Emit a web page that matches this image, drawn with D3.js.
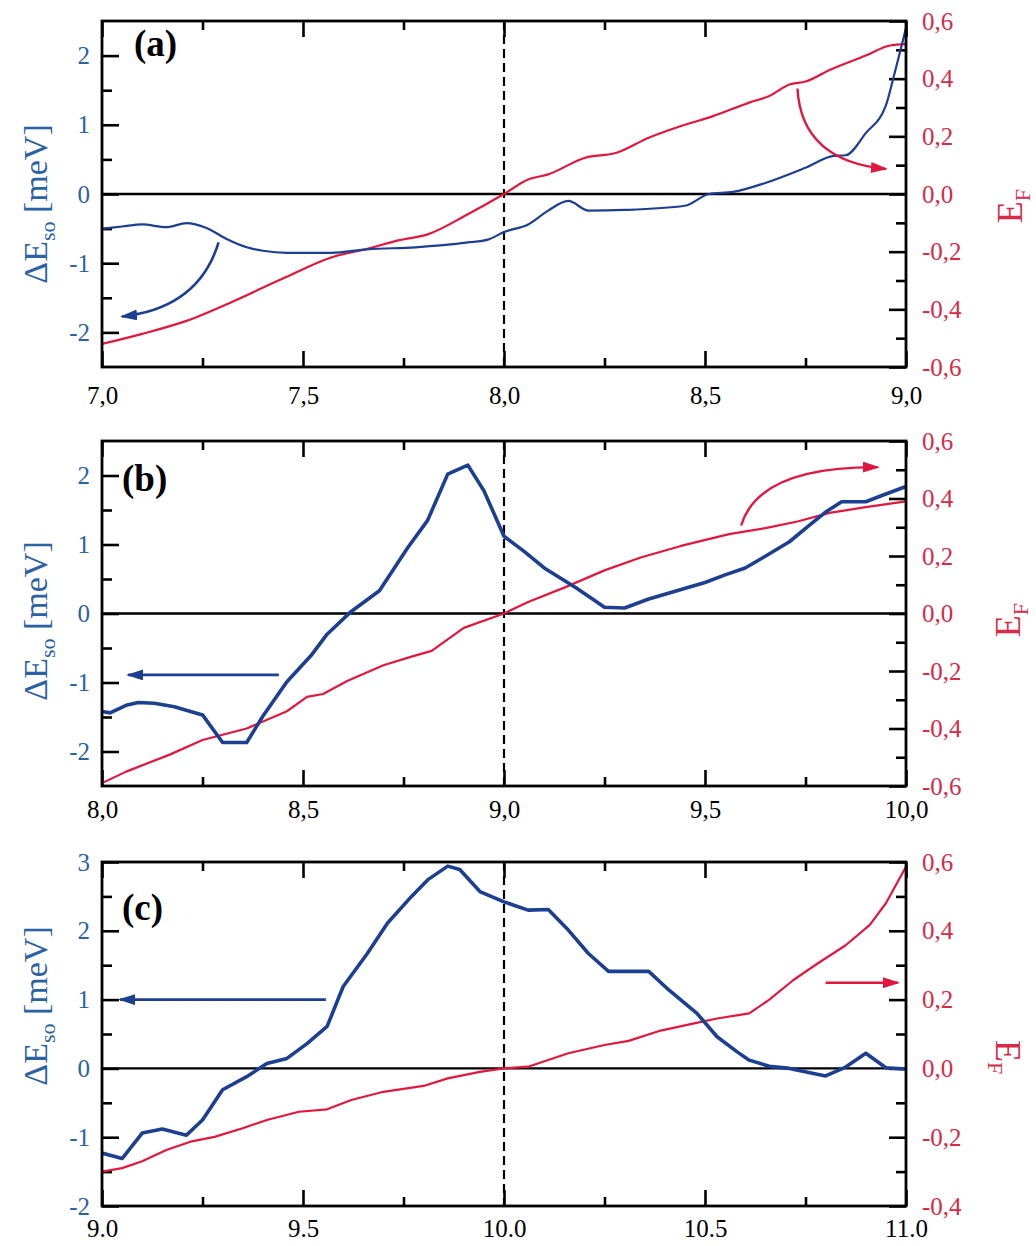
<!DOCTYPE html>
<html>
<head>
<meta charset="utf-8">
<script src="https://cdn.jsdelivr.net/npm/d3@7"></script>
<style>
  html, body { margin: 0; padding: 0; background: #fff; }
  svg { display: block; }
</style>
</head>
<body>
<svg id="fig" width="1036" height="1246"></svg>
<script>
// ---------- data: [x, value] pairs ----------
// panel (a): spin-orbit splitting (meV) and Fermi energy
const aSplit = [[7.00,-0.50],[7.05,-0.47],[7.10,-0.44],[7.16,-0.48],[7.21,-0.42],[7.26,-0.49],[7.31,-0.65],[7.36,-0.77],[7.40,-0.82],[7.46,-0.85],[7.57,-0.85],[7.66,-0.80],[7.78,-0.77],[7.91,-0.70],[7.96,-0.66],[8.00,-0.55],[8.06,-0.44],[8.11,-0.24],[8.16,-0.10],[8.21,-0.24],[8.30,-0.23],[8.45,-0.17],[8.51,0.00],[8.57,0.03],[8.65,0.16],[8.75,0.38],[8.82,0.55],[8.85,0.56],[8.90,0.88],[8.95,1.28],[8.97,1.71],[9.00,2.40]];
const aFermi = [[7.00,-0.52],[7.10,-0.485],[7.21,-0.44],[7.33,-0.37],[7.455,-0.29],[7.57,-0.22],[7.66,-0.19],[7.74,-0.16],[7.81,-0.14],[7.91,-0.07],[8.00,0.00],[8.06,0.05],[8.11,0.068],[8.20,0.125],[8.28,0.143],[8.36,0.195],[8.45,0.24],[8.52,0.27],[8.61,0.317],[8.66,0.34],[8.71,0.38],[8.75,0.39],[8.81,0.43],[8.90,0.48],[8.96,0.515],[9.00,0.52]];

// panel (b)
const bSplit = [[8.00,-1.42],[8.02,-1.44],[8.06,-1.33],[8.09,-1.29],[8.13,-1.30],[8.18,-1.35],[8.25,-1.47],[8.30,-1.87],[8.36,-1.87],[8.40,-1.49],[8.46,-0.99],[8.52,-0.61],[8.56,-0.30],[8.62,0.03],[8.69,0.33],[8.76,0.95],[8.81,1.35],[8.86,2.02],[8.91,2.15],[8.95,1.78],[9.00,1.12],[9.05,0.90],[9.10,0.66],[9.18,0.37],[9.25,0.09],[9.30,0.08],[9.36,0.21],[9.43,0.33],[9.50,0.45],[9.55,0.56],[9.60,0.66],[9.65,0.83],[9.71,1.04],[9.76,1.28],[9.80,1.47],[9.84,1.62],[9.90,1.62],[9.94,1.71],[10.00,1.84]];
const bFermi = [[8.00,-0.59],[8.06,-0.55],[8.17,-0.49],[8.25,-0.44],[8.36,-0.40],[8.46,-0.34],[8.51,-0.29],[8.55,-0.28],[8.61,-0.235],[8.70,-0.18],[8.77,-0.15],[8.82,-0.13],[8.90,-0.05],[9.00,0.00],[9.06,0.04],[9.15,0.09],[9.25,0.15],[9.34,0.195],[9.44,0.235],[9.56,0.276],[9.65,0.297],[9.73,0.32],[9.81,0.35],[9.90,0.37],[10.00,0.39]];

// panel (c)
const cSplit = [[9.00,-1.23],[9.05,-1.31],[9.10,-0.94],[9.15,-0.88],[9.21,-0.97],[9.25,-0.75],[9.30,-0.31],[9.36,-0.12],[9.41,0.07],[9.46,0.145],[9.51,0.36],[9.56,0.61],[9.60,1.19],[9.66,1.67],[9.71,2.11],[9.77,2.50],[9.81,2.74],[9.86,2.94],[9.89,2.89],[9.94,2.57],[10.00,2.42],[10.06,2.30],[10.11,2.31],[10.16,2.01],[10.21,1.67],[10.26,1.41],[10.36,1.41],[10.41,1.14],[10.48,0.80],[10.53,0.46],[10.58,0.24],[10.61,0.12],[10.66,0.03],[10.71,0.00],[10.80,-0.11],[10.85,0.02],[10.90,0.22],[10.95,0.01],[11.00,-0.01]];
const cFermi = [[9.00,-0.30],[9.05,-0.29],[9.10,-0.27],[9.16,-0.237],[9.22,-0.213],[9.28,-0.199],[9.35,-0.174],[9.41,-0.15],[9.49,-0.126],[9.56,-0.119],[9.62,-0.092],[9.70,-0.068],[9.80,-0.051],[9.86,-0.029],[9.94,-0.01],[10.00,0.00],[10.06,0.005],[10.16,0.044],[10.25,0.068],[10.31,0.08],[10.39,0.11],[10.47,0.13],[10.53,0.145],[10.61,0.16],[10.66,0.20],[10.72,0.257],[10.78,0.305],[10.85,0.358],[10.91,0.417],[10.95,0.48],[11.00,0.586]];

// ---------- ticks ----------
const aXTicks = [7.0, 7.5, 8.0, 8.5, 9.0];
const bXTicks = [8.0, 8.5, 9.0, 9.5, 10.0];
const cXTicks = [9.0, 9.5, 10.0, 10.5, 11.0];
const abLeftTicks = [-2, -1, 0, 1, 2];
const cLeftTicks = [-2, -1, 0, 1, 2, 3];
const abRightTicks = [-0.6, -0.4, -0.2, 0.0, 0.2, 0.4, 0.6];
const cRightTicks = [-0.4, -0.2, 0.0, 0.2, 0.4, 0.6];

// direction arrows: blue ones refer to the left axis, red ones to the right axis
const aArrows = [
  { side: 'left', pts: [[7.29,-0.70],[7.24,-1.65],[7.05,-1.77]] },
  { side: 'right', pts: [[8.73,0.366],[8.74,0.115],[8.95,0.087]] }
];
const bArrows = [
  { side: 'left', pts: [[8.44,-0.89],[8.065,-0.89]] },
  { side: 'right', pts: [[9.59,0.306],[9.633,0.511],[9.93,0.509]] }
];
const cArrows = [
  { side: 'left', pts: [[9.557,1.0],[9.045,1.0]] },
  { side: 'right', pts: [[10.80,0.249],[10.98,0.249]] }
];

// ---------- styling ----------
const BLUE_LINE = '#1d3f92';
const BLUE_TEXT = '#2c62a4';
const RED_LINE = '#e2173f';
const RED_TEXT = '#d62a48';
const FONT = '"Liberation Serif", "Times New Roman", serif';
const X0 = 102, X1 = 906;

const commaFmt = d => (+d).toFixed(1).replace('.', ',');
const dotFmt = d => (+d).toFixed(1);
const intFmt = d => String(d);

const panels = [
  { tag: '(a)', top: 21, bottom: 367, xDomain: [7, 9], xTicks: aXTicks, xFmt: commaFmt, xPad: 19,
    leftDomain: [-2.5, 2.5], leftTicks: abLeftTicks, rightDomain: [-0.6, 0.6], rightTicks: abRightTicks,
    split: aSplit, fermi: aFermi, splitWidth: 2.2, smooth: true, mark: 8.0, arrows: aArrows,
    tagPos: [134, 56], leftTitle: [47, 204], rightTitle: [1022, 206, -90] },
  { tag: '(b)', top: 441, bottom: 786, xDomain: [8, 10], xTicks: bXTicks, xFmt: commaFmt, xPad: 14,
    leftDomain: [-2.5, 2.5], leftTicks: abLeftTicks, rightDomain: [-0.6, 0.6], rightTicks: abRightTicks,
    split: bSplit, fermi: bFermi, splitWidth: 3.6, smooth: false, mark: 9.0, arrows: bArrows,
    tagPos: [122, 491], leftTitle: [47, 621], rightTitle: [1020, 620, -90] },
  { tag: '(c)', top: 862, bottom: 1206, xDomain: [9, 11], xTicks: cXTicks, xFmt: dotFmt, xPad: 13,
    leftDomain: [-2, 3], leftTicks: cLeftTicks, rightDomain: [-0.4, 0.6], rightTicks: cRightTicks,
    split: cSplit, fermi: cFermi, splitWidth: 3.6, smooth: false, mark: 10.0, arrows: cArrows,
    tagPos: [122, 920], leftTitle: [47, 1006], rightTitle: [996, 1057, 90] }
];

const svg = d3.select('#fig');
const defs = svg.append('defs');

function addMarker(id, color) {
  defs.append('marker')
    .attr('id', id)
    .attr('viewBox', '0 0 17 11')
    .attr('refX', 15).attr('refY', 5.5)
    .attr('markerWidth', 17).attr('markerHeight', 11)
    .attr('markerUnits', 'userSpaceOnUse')
    .attr('orient', 'auto')
    .append('path')
    .attr('d', 'M0,0L17,5.5L0,11Z')
    .attr('fill', color);
}
addMarker('head-blue', BLUE_LINE);
addMarker('head-red', RED_LINE);

// midpoints between consecutive major ticks become the minor ticks
function minorOf(ticks) {
  const out = [];
  for (let i = 0; i < ticks.length - 1; i++) out.push((ticks[i] + ticks[i + 1]) / 2);
  return out;
}

function styleAxis(sel, color) {
  sel.attr('font-family', FONT).attr('font-size', 25);
  sel.select('.domain').remove();
  sel.selectAll('.tick line').attr('stroke', '#000').attr('stroke-width', 2.6);
  sel.selectAll('.tick text').attr('fill', color);
}

panels.forEach((p, i) => {
  const g = svg.append('g');
  const x = d3.scaleLinear().domain(p.xDomain).range([X0, X1]);
  const yL = d3.scaleLinear().domain(p.leftDomain).range([p.bottom, p.top]);
  const yR = d3.scaleLinear().domain(p.rightDomain).range([p.bottom, p.top]);

  defs.append('clipPath').attr('id', 'clip' + i)
    .append('rect').attr('x', X0).attr('y', p.top)
    .attr('width', X1 - X0).attr('height', p.bottom - p.top);

  const xMinor = minorOf(p.xTicks);
  const lMinor = minorOf(p.leftTicks);
  const rMinor = minorOf(p.rightTicks);
  const none = () => '';

  // bottom axis with labels
  g.append('g').attr('transform', `translate(0,${p.bottom})`)
    .call(d3.axisBottom(x).tickValues(p.xTicks).tickSize(-16).tickSizeOuter(0).tickPadding(p.xPad).tickFormat(p.xFmt))
    .call(s => styleAxis(s, '#000'));
  g.append('g').attr('transform', `translate(0,${p.bottom})`)
    .call(d3.axisBottom(x).tickValues(xMinor).tickSize(-9).tickSizeOuter(0).tickFormat(none))
    .call(s => styleAxis(s, '#000'));
  // top axis, ticks only
  g.append('g').attr('transform', `translate(0,${p.top})`)
    .call(d3.axisTop(x).tickValues(p.xTicks).tickSize(-16).tickSizeOuter(0).tickFormat(none))
    .call(s => styleAxis(s, '#000'));
  g.append('g').attr('transform', `translate(0,${p.top})`)
    .call(d3.axisTop(x).tickValues(xMinor).tickSize(-9).tickSizeOuter(0).tickFormat(none))
    .call(s => styleAxis(s, '#000'));
  // left axis (splitting)
  g.append('g').attr('transform', `translate(${X0},0)`)
    .call(d3.axisLeft(yL).tickValues(p.leftTicks).tickSize(-17).tickSizeOuter(0).tickPadding(12).tickFormat(intFmt))
    .call(s => styleAxis(s, BLUE_TEXT));
  g.append('g').attr('transform', `translate(${X0},0)`)
    .call(d3.axisLeft(yL).tickValues(lMinor).tickSize(-10).tickSizeOuter(0).tickFormat(none))
    .call(s => styleAxis(s, BLUE_TEXT));
  // right axis (Fermi energy)
  g.append('g').attr('transform', `translate(${X1},0)`)
    .call(d3.axisRight(yR).tickValues(p.rightTicks).tickSize(-17).tickSizeOuter(0).tickPadding(16).tickFormat(commaFmt))
    .call(s => styleAxis(s, RED_TEXT));
  g.append('g').attr('transform', `translate(${X1},0)`)
    .call(d3.axisRight(yR).tickValues(rMinor).tickSize(-10).tickSizeOuter(0).tickFormat(none))
    .call(s => styleAxis(s, RED_TEXT));

  // zero line and dashed marker line
  g.append('line')
    .attr('x1', X0).attr('x2', X1).attr('y1', yL(0)).attr('y2', yL(0))
    .attr('stroke', '#000').attr('stroke-width', 2.4);
  g.append('line')
    .attr('x1', x(p.mark)).attr('x2', x(p.mark)).attr('y1', p.top).attr('y2', p.bottom)
    .attr('stroke', '#000').attr('stroke-width', 2.2).attr('stroke-dasharray', '9,5');

  const plot = g.append('g').attr('clip-path', `url(#clip${i})`);
  const curve = p.smooth ? d3.curveMonotoneX : d3.curveLinear;

  plot.append('path').datum(p.fermi)
    .attr('d', d3.line().x(d => x(d[0])).y(d => yR(d[1])).curve(curve))
    .attr('fill', 'none').attr('stroke', RED_LINE).attr('stroke-width', 2.2)
    .attr('stroke-linejoin', 'round');
  plot.append('path').datum(p.split)
    .attr('d', d3.line().x(d => x(d[0])).y(d => yL(d[1])).curve(curve))
    .attr('fill', 'none').attr('stroke', BLUE_LINE).attr('stroke-width', p.splitWidth)
    .attr('stroke-linejoin', 'round');

  // arrows pointing to the axis each curve belongs to
  p.arrows.forEach(a => {
    const ys = a.side === 'left' ? yL : yR;
    const pts = a.pts.map(d => [x(d[0]), ys(d[1])]);
    let d;
    if (pts.length === 3) d = `M${pts[0]}Q${pts[1]} ${pts[2]}`;
    else d = `M${pts[0]}L${pts[1]}`;
    const blue = a.side === 'left';
    g.append('path').attr('d', d)
      .attr('fill', 'none')
      .attr('stroke', blue ? BLUE_LINE : RED_LINE)
      .attr('stroke-width', blue ? 2.6 : 2.4)
      .attr('marker-end', `url(#${blue ? 'head-blue' : 'head-red'})`);
  });

  // frame
  g.append('rect')
    .attr('x', X0).attr('y', p.top).attr('width', X1 - X0).attr('height', p.bottom - p.top)
    .attr('fill', 'none').attr('stroke', '#000').attr('stroke-width', 2.8);

  // panel tag
  g.append('text')
    .attr('x', p.tagPos[0]).attr('y', p.tagPos[1])
    .attr('font-family', FONT).attr('font-weight', 'bold').attr('font-size', 37)
    .attr('fill', '#000').text(p.tag);

  // left title: ΔE_so [meV]
  const lt = g.append('text')
    .attr('transform', `translate(${p.leftTitle[0]},${p.leftTitle[1]}) rotate(-90)`)
    .attr('text-anchor', 'middle')
    .attr('font-family', FONT).attr('font-size', 34).attr('fill', BLUE_TEXT);
  lt.append('tspan').text('ΔE');
  lt.append('tspan').attr('font-size', 22).attr('dy', 8).text('so');
  lt.append('tspan').attr('dy', -8).text(' [meV]');

  // right title: E_F
  const rt = g.append('text')
    .attr('transform', `translate(${p.rightTitle[0]},${p.rightTitle[1]}) rotate(${p.rightTitle[2]})`)
    .attr('text-anchor', 'middle')
    .attr('font-family', FONT).attr('font-size', 36).attr('fill', RED_TEXT);
  rt.append('tspan').text('E');
  rt.append('tspan').attr('font-size', 22).attr('dy', 8).text('F');
});
</script>
</body>
</html>
